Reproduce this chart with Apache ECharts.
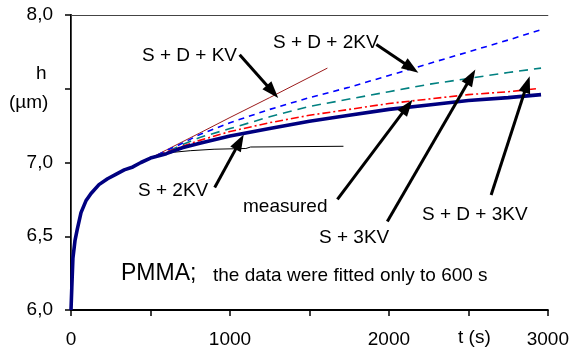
<!DOCTYPE html>
<html>
<head>
<meta charset="utf-8">
<script src="https://cdn.jsdelivr.net/npm/echarts@6/dist/echarts.min.js"></script>
<style>
  html, body { margin: 0; padding: 0; background: #fff; }
  #chart { width: 572px; height: 349px; }
</style>
</head>
<body>
<div id="chart"></div>
<script>
// time axis (s) and h (um)
const xTicks = [0, 1000, 2000, 3000];
const yTicks = [6.0, 6.5, 7.0, 7.5, 8.0];

// early part shared by every curve
const earlyT = [0, 5, 12, 25, 40, 63, 94, 126, 176, 230, 282, 335, 389, 440, 500];
const earlyH = [6.0, 6.15, 6.35, 6.47, 6.55, 6.66, 6.74, 6.79, 6.85, 6.89, 6.92, 6.95, 6.97, 7.0, 7.03];

const measuredT = [600, 700, 810, 1000, 1250, 1500, 1750, 2000, 2250, 2500, 2750, 2957];
const measuredH = [7.06, 7.10, 7.13, 7.18, 7.23, 7.28, 7.32, 7.36, 7.39, 7.42, 7.44, 7.46];

const s2kvT = [560, 650, 750, 900, 1100, 1130, 1714];
const s2kvH = [7.05, 7.07, 7.08, 7.09, 7.095, 7.105, 7.11];

const sdkvT = [600, 810, 1000, 1250, 1613];
const sdkvH = [7.085, 7.20, 7.305, 7.44, 7.64];

const s3kvT = [600, 700, 810, 1000, 1250, 1500, 1750, 2000, 2250, 2500, 2750, 2925];
const s3kvH = [7.07, 7.11, 7.15, 7.21, 7.27, 7.32, 7.36, 7.40, 7.43, 7.46, 7.48, 7.50];

const sd3kvT = [600, 700, 810, 1000, 1250, 1500, 1750, 2000, 2250, 2500, 2750, 2957];
const sd3kvH = [7.07, 7.12, 7.17, 7.23, 7.31, 7.38, 7.43, 7.48, 7.53, 7.57, 7.61, 7.64];

const sd2kvT = [600, 700, 810, 1000, 1250, 1500, 1750, 2000, 2250, 2500, 2750, 2957];
const sd2kvH = [7.08, 7.13, 7.19, 7.27, 7.36, 7.44, 7.51, 7.59, 7.67, 7.75, 7.83, 7.90];

const pairs = (t, h) => earlyT.map((v, i) => [v, earlyH[i]]).concat(t.map((v, i) => [v, h[i]]));

const FONT = 'Liberation Sans, Arial, sans-serif';

// arrows: [fromT, fromH, toT, toH]
const arrows = [
  [1061, 7.73, 1268, 7.48],
  [1921, 7.80, 2141, 7.64],
  [904, 6.83, 1061, 7.14],
  [1676, 6.75, 2116, 7.38],
  [1990, 6.60, 2517, 7.58],
  [2643, 6.78, 2869, 7.53]
];

const chart = echarts.init(document.getElementById('chart'));

const lineSeries = (data, color, width, type, z) => ({
  type: 'line',
  data,
  symbol: 'none',
  lineStyle: { color, width, type },
  z,
  animation: false
});

const text = (str, left, top, size) => ({
  type: 'text',
  left, top,
  style: { text: str, font: size + 'px ' + FONT, fill: '#000' }
});

const frameAxis = { show: true, axisLine: { lineStyle: { color: '#444', width: 1 } },
  axisTick: { show: false }, axisLabel: { show: false }, splitLine: { show: false } };

chart.setOption({
  animation: false,
  grid: { left: 71, right: 23, top: 15, bottom: 39 },
  xAxis: [{
    type: 'value',
    min: 0, max: 3000, interval: 500,
    axisLine: { lineStyle: { color: '#000', width: 2 } },
    axisTick: { length: 6, lineStyle: { color: '#000', width: 1.5 } },
    axisLabel: {
      margin: 20,
      fontFamily: FONT, fontSize: 19, color: '#000',
      formatter: v => (xTicks.includes(v) ? String(v) : '')
    },
    splitLine: { show: false }
  }, Object.assign({ type: 'value', position: 'top', min: 0, max: 3000 }, frameAxis)],
  yAxis: [{
    type: 'value',
    min: 6, max: 8, interval: 0.5,
    axisLine: { lineStyle: { color: '#000', width: 2 } },
    axisTick: { length: 6, lineStyle: { color: '#000', width: 1.5 } },
    axisLabel: {
      margin: 18,
      fontFamily: FONT, fontSize: 19, color: '#000',
      formatter: v => (yTicks.includes(v) && v !== 7.5 ? v.toFixed(1).replace('.', ',') : '')
    },
    splitLine: { show: false }
  }, Object.assign({ type: 'value', position: 'right', min: 6, max: 8 }, frameAxis)],
  series: [
    lineSeries(pairs(s2kvT, s2kvH), '#000000', 1, 'solid', 2),
    lineSeries(pairs(sdkvT, sdkvH), '#9b1b1b', 1, 'solid', 2),
    lineSeries(pairs(sd2kvT, sd2kvH), '#0000ff', 1.6, [6, 5], 2),
    lineSeries(pairs(sd3kvT, sd3kvH), '#008080', 1.6, [9, 6], 2),
    lineSeries(pairs(s3kvT, s3kvH), '#ff0000', 1.6, [8, 3, 2, 3], 2),
    lineSeries(pairs(measuredT, measuredH), '#000080', 3.6, 'solid', 3),
    {
      type: 'line',
      data: [],
      z: 5,
      markLine: {
        silent: true,
        animation: false,
        symbol: ['none', 'triangle'],
        symbolSize: [12, 17],
        label: { show: false },
        lineStyle: { color: '#000', width: 3, type: 'solid' },
        data: arrows.map(a => [{ coord: [a[0], a[1]] }, { coord: [a[2], a[3]] }])
      }
    }
  ],
  graphic: [
    text('S + D + KV', 142, 46, 19),
    text('S + D + 2KV', 273, 33, 19),
    text('S + 2KV', 138, 181, 19),
    text('measured', 243, 197, 19),
    text('S + 3KV', 319, 228, 19),
    text('S + D + 3KV', 422, 205, 19),
    text('PMMA;', 121, 262, 23),
    text('the data were fitted only to 600 s', 213, 266, 19),
    text('h', 36, 64, 19),
    text('(\u00b5m)', 9, 93, 19),
    text('t (s)', 458, 328, 19)
  ]
});
</script>
</body>
</html>
